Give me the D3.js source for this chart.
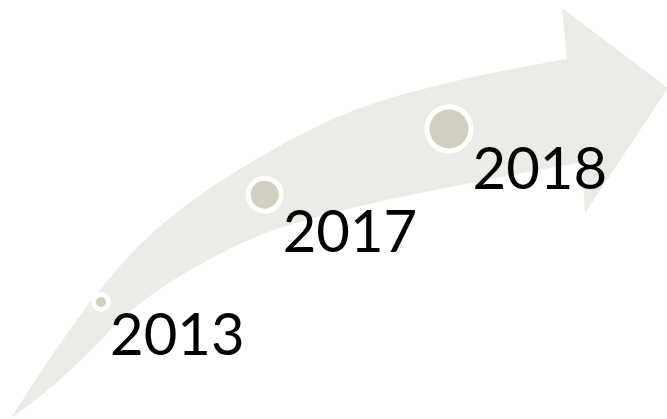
<!DOCTYPE html>
<html>
<head>
<meta charset="UTF-8">
<title>Timeline arrow</title>
<style>
html, body {
    margin: 0;
    padding: 0;
    background-color: #ffffff;
}
.arrow {
    fill: #edebe7;
    stroke: none;
}
.dot {
    fill: #d3cec2;
    stroke: #ffffff;
}
.year {
    font-family: Lato, "Open Sans", sans-serif;
    font-size: 58px;
    fill: #000000;
}
</style>
</head>
<body>
<div class="chart"></div>
<script src="https://cdn.jsdelivr.net/npm/d3@7/dist/d3.min.js"></script>
<script>
// milestones
const years = ['2013', '2017', '2018'];
const weight = [1, 2.8, 3.9];

// arrow outline (decorative backdrop)
const arrowOuter = [[11, 418], [33, 384], [50, 358], [67, 334], [85, 309], [100, 290], [120, 266],
    [150, 235], [200, 195], [250, 163], [300, 135], [360, 108], [460, 80], [567, 59]];
const arrowHead = [[562, 8], [668, 88], [585, 213], [582, 162]];
const arrowInner = [[582, 162], [460, 185], [387, 200], [320, 216], [253, 238], [187, 272],
    [150, 296], [120, 320], [100, 341], [67, 373], [33, 402], [11, 418]];
// track the milestones sit on
const track = [[101, 302], [262, 196], [449, 129]];

let width = 667, height = 419;

let svg = d3.select('.chart').append('svg')
    .attr('width', width)
    .attr('height', height);

let curve = d3.line().curve(d3.curveCatmullRom.alpha(0.5));

let arrowD = curve(arrowOuter)
    + arrowHead.map(p => 'L' + p[0] + ',' + p[1]).join('')
    + curve(arrowInner).replace(/^M/, 'L') + 'Z';

svg.append('path')
    .attr('class', 'arrow')
    .attr('d', arrowD);

let trackPath = svg.append('path')
    .attr('d', curve(track))
    .attr('fill', 'none')
    .attr('stroke', 'none');

let trackLen = trackPath.node().getTotalLength();

let pos = d3.scalePoint()
    .domain(years)
    .range([0, trackLen]);

let rScale = d3.scaleLinear()
    .domain([0, 4])
    .range([0, 20]);

let ring = 5;

let data = years.map((y, i) => {
    let p = trackPath.node().getPointAtLength(pos(y));
    return {year: y, x: p.x, y: p.y, r: rScale(weight[i])};
});

svg.selectAll('.dot')
    .data(data)
    .enter().append('circle')
    .attr('class', 'dot')
    .attr('cx', d => d.x)
    .attr('cy', d => d.y)
    .attr('r', d => d.r + ring / 2)
    .attr('stroke-width', ring);

svg.selectAll('.year')
    .data(data)
    .enter().append('text')
    .attr('class', 'year')
    .attr('x', d => d.x + d.r + ring - 1)
    .attr('y', d => d.y + (d.r + ring) * 0.5 + 48)
    .text(d => d.year);
</script>
</body>
</html>
